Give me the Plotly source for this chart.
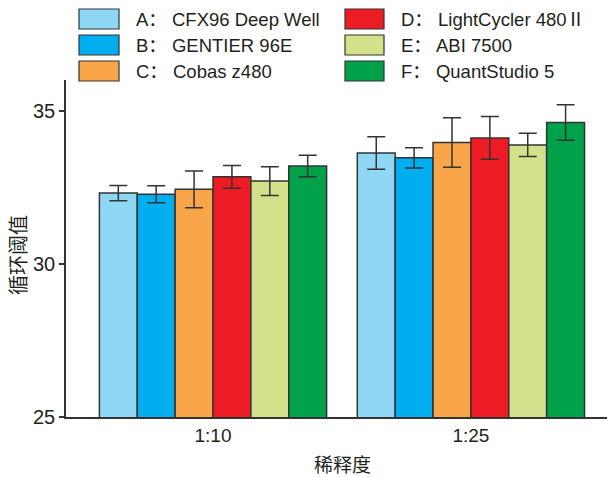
import plotly.graph_objects as go

categories = ["1:10", "1:25"]
series_names = ["A： CFX96 Deep Well", "B： GENTIER 96E", "C： Cobas z480",
                "D： LightCycler 480Ⅱ", "E： ABI 7500", "F： QuantStudio 5"]
colors = ["#8ED8F5", "#00AEEF", "#F9A54A", "#ED1C24", "#D3E28A", "#00A14B"]
values_A = [32.31, 33.62]
values_B = [32.27, 33.46]
values_C = [32.43, 33.96]
values_D = [32.84, 34.11]
values_E = [32.70, 33.88]
values_F = [33.19, 34.61]
errors_A = [0.25, 0.53]
errors_B = [0.28, 0.33]
errors_C = [0.60, 0.81]
errors_D = [0.37, 0.70]
errors_E = [0.47, 0.38]
errors_F = [0.35, 0.58]
y_ticks = [25, 30, 35]
x_title = "稀释度"
y_title = "循环阈值"

all_values = [values_A, values_B, values_C, values_D, values_E, values_F]
all_errors = [errors_A, errors_B, errors_C, errors_D, errors_E, errors_F]

FONT = "Liberation Sans, Arial, Noto Sans CJK SC, sans-serif"
INK = "#231F20"
EDGE = "#333333"

# the page body adds an 8px margin; size the figure so it fills the window
OFF = 8
W, H = 615 - OFF, 477 - OFF
# plot area in window pixels: x 66..612, y 80..417
L = 66 - OFF
R = W - (612 - OFF)
T = 80 - OFF
B = H - (417 - OFF)
PW, PH = W - L - R, H - T - B

fig = go.Figure()
for name, col, vals, errs in zip(series_names, colors, all_values, all_errors):
    fig.add_trace(go.Bar(
        x=categories, y=vals, name=name,
        marker=dict(color=col, line=dict(color=EDGE, width=1.5)),
        error_y=dict(type="data", array=errs, visible=True,
                     color=EDGE, thickness=1.5, width=9),
        showlegend=False,
    ))

def px2x(px):
    return (px - OFF - L) / PW

def py2y(py):
    return (H - B - (py - OFF)) / PH

# manual legend: two columns, three rows (window pixel coordinates)
col_swatch = [(79, 119), (345, 384)]
col_text = [134, 399]
row_y = [19, 45, 71]
shapes = []
annotations = []
for i, (name, col) in enumerate(zip(series_names, colors)):
    c, r = divmod(i, 3)
    x0, x1 = col_swatch[c]
    yc = row_y[r]
    shapes.append(dict(type="rect", xref="paper", yref="paper",
                       x0=px2x(x0), x1=px2x(x1),
                       y0=py2y(yc + 10), y1=py2y(yc - 10),
                       fillcolor=col, line=dict(color=EDGE, width=1.2)))
    annotations.append(dict(text=name, xref="paper", yref="paper",
                            x=px2x(col_text[c]), y=py2y(yc),
                            xanchor="left", yanchor="middle", showarrow=False,
                            font=dict(family=FONT, size=18.5, color=INK)))

# axis titles
annotations.append(dict(text=x_title, xref="paper", yref="paper",
                        x=px2x(342), y=py2y(465), xanchor="center", yanchor="middle",
                        showarrow=False, font=dict(family=FONT, size=19, color=INK)))
annotations.append(dict(text=y_title, xref="paper", yref="paper",
                        x=px2x(19), y=py2y(255), xanchor="center", yanchor="middle",
                        textangle=-90, showarrow=False,
                        font=dict(family=FONT, size=20, color=INK)))

fig.update_layout(
    width=W, height=H,
    margin=dict(l=L, r=R, t=T, b=B),
    paper_bgcolor="white", plot_bgcolor="white",
    barmode="group", bargap=0.119, bargroupgap=0,
    font=dict(family=FONT, color=INK),
    shapes=shapes, annotations=annotations,
    xaxis=dict(range=[-0.57, 1.547], showline=True, linecolor=EDGE, linewidth=1.5,
               ticks="", showgrid=False, zeroline=False, automargin=False,
               tickfont=dict(family=FONT, size=19, color=INK)),
    yaxis=dict(range=[25, 36], showline=True, linecolor=EDGE, linewidth=1.5,
               tickvals=y_ticks, ticks="outside", ticklen=5, tickwidth=1.5, tickcolor=EDGE,
               showgrid=False, zeroline=False, automargin=False,
               tickfont=dict(family=FONT, size=20, color=INK)),
)

fig.write_html("out.html")
